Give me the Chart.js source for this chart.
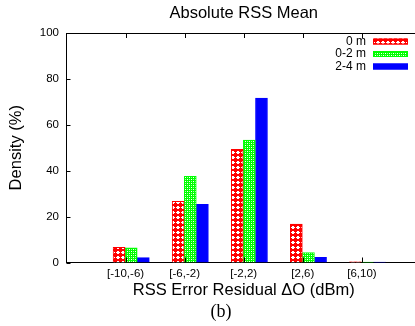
<!DOCTYPE html>
<html>
<head>
<meta charset="utf-8">
<script src="https://cdn.jsdelivr.net/npm/chart.js@4"></script>
<style>
  html, body { margin: 0; padding: 0; background: #fff; overflow: hidden; }
  #wrap { width: 421px; height: 326px; }
</style>
</head>
<body>
<div id="wrap"><canvas id="rssChart"></canvas></div>
<script>
// data
const categories = ['[-10,-6)', '[-6,-2)', '[-2,2)', '[2,6)', '[6,10)'];
const seriesLabels = ['0 m', '0-2 m', '2-4 m'];
const dist0 = [6.6, 26.7, 49.3, 16.7, 0.3];
const dist02 = [6.4, 37.6, 53.3, 4.3, 0.2];
const dist24 = [2.1, 25.3, 71.6, 2.3, 0.2];
const yTicks = [0, 20, 40, 60, 80, 100];

const FONT = "'Liberation Sans', Arial, sans-serif";
const groupOffsets = [-0.11, 0.095, 0.3];

// 1) fill patterns (gnuplot-ish)
function redPattern() {
  const c = document.createElement('canvas');
  c.width = 5; c.height = 5;
  const g = c.getContext('2d');
  g.fillStyle = '#ff0000';
  g.fillRect(0, 0, 5, 5);
  g.fillStyle = '#ffffff';
  g.fillRect(2, 1, 2, 3);
  g.fillRect(1, 2, 4, 1);
  return g.createPattern(c, 'repeat');
}
function greenPattern() {
  const c = document.createElement('canvas');
  c.width = 4; c.height = 4;
  const g = c.getContext('2d');
  g.fillStyle = '#00ff00';
  g.fillRect(0, 0, 4, 4);
  g.fillStyle = '#ffffff';
  g.fillRect(1, 1, 1, 1);
  g.fillRect(3, 3, 1, 1);
  g.fillStyle = '#a8ffa8';
  g.fillRect(3, 1, 1, 1);
  g.fillRect(1, 3, 1, 1);
  return g.createPattern(c, 'repeat');
}

const fills = [redPattern(), greenPattern(), '#0000ff'];
const edges = ['#ff0000', '#00ff00', '#0000ff'];

function toPoints(vals, k) {
  return vals.map((v, i) => ({ x: i + groupOffsets[k], y: v }));
}

// 2) inward ticks, top border, legend, caption
const frame = {
  id: 'frame',
  afterDraw(chart) {
    const ctx = chart.ctx;
    const a = chart.chartArea;
    const xs = chart.scales.x, ys = chart.scales.y;
    ctx.save();
    ctx.strokeStyle = '#000';
    ctx.lineWidth = 1;
    ctx.beginPath();
    ctx.moveTo(a.left, Math.round(a.top) + 0.5);
    ctx.lineTo(a.right, Math.round(a.top) + 0.5);
    categories.forEach((c, i) => {
      const px = Math.round(xs.getPixelForValue(i)) + 0.5;
      ctx.moveTo(px, a.bottom);
      ctx.lineTo(px, a.bottom - 5);
      ctx.moveTo(px, a.top);
      ctx.lineTo(px, a.top + 5);
    });
    yTicks.forEach(v => {
      const py = Math.round(ys.getPixelForValue(v)) + 0.5;
      ctx.moveTo(a.left, py);
      ctx.lineTo(a.left + 4, py);
    });
    ctx.stroke();

    // legend
    ctx.font = '12px ' + FONT;
    ctx.textAlign = 'right';
    ctx.textBaseline = 'middle';
    const rows = [41.5, 54, 66.5];
    chart.data.datasets.forEach((ds, k) => {
      ctx.fillStyle = '#000';
      ctx.fillText(ds.label, 366, rows[k]);
      ctx.fillStyle = ds.backgroundColor;
      ctx.fillRect(373, rows[k] - 3, 35, 6);
      ctx.strokeStyle = ds.borderColor;
      ctx.strokeRect(373.5, rows[k] - 2.5, 34, 5);
    });

    // caption
    ctx.fillStyle = '#000';
    ctx.textAlign = 'center';
    ctx.font = "18px 'Liberation Serif', 'Times New Roman', serif";
    ctx.fillText('(b)', 221, 312);
    ctx.restore();
  }
};

const rssChart = new Chart(document.getElementById('rssChart').getContext('2d'), {
  type: 'bar',
  data: {
    datasets: [
      { label: seriesLabels[0], data: toPoints(dist0, 0) },
      { label: seriesLabels[1], data: toPoints(dist02, 1) },
      { label: seriesLabels[2], data: toPoints(dist24, 2) }
    ].map((ds, k) => Object.assign(ds, {
      backgroundColor: fills[k],
      borderColor: edges[k],
      borderWidth: 1,
      barThickness: 12,
      grouped: false
    }))
  },
  options: {
    responsive: true,
    maintainAspectRatio: false,
    animation: false,
    layout: { padding: { top: 0, left: 0, right: 0, bottom: 24.5 } },
    scales: {
      x: {
        type: 'linear',
        min: -1,
        max: 5,
        offset: false,
        grid: { display: false, drawTicks: false },
        border: { display: true, color: '#000', width: 1 },
        afterBuildTicks: s => { s.ticks = categories.map((c, i) => ({ value: i })); },
        afterFit: s => { s.height = 39; },
        ticks: {
          padding: 4,
          color: '#000',
          font: { family: FONT, size: 11.5 },
          maxRotation: 0,
          autoSkip: false,
          callback: v => categories[v]
        },
        title: {
          display: true,
          text: 'RSS Error Residual ΔO (dBm)',
          color: '#000',
          font: { family: FONT, size: 16.5 },
          padding: { top: 0, bottom: 1 }
        }
      },
      y: {
        min: 0,
        max: 100,
        grid: { display: false, drawTicks: false },
        border: { display: true, color: '#000', width: 1 },
        afterBuildTicks: s => { s.ticks = yTicks.map(v => ({ value: v })); },
        afterFit: s => { s.width = 66.5; },
        ticks: {
          padding: 7.5,
          color: '#000',
          font: { family: FONT, size: 11.5 }
        },
        title: {
          display: true,
          text: 'Density (%)',
          color: '#000',
          font: { family: FONT, size: 16.5 },
          padding: { top: 7, bottom: 0 }
        }
      }
    },
    plugins: {
      legend: { display: false },
      tooltip: { enabled: false },
      title: {
        display: true,
        text: 'Absolute RSS Mean',
        fullSize: false,
        color: '#000',
        font: { family: FONT, size: 16.5, weight: 'normal' },
        padding: { top: 4, bottom: 9.2 }
      }
    }
  },
  plugins: [frame]
});
</script>
</body>
</html>
